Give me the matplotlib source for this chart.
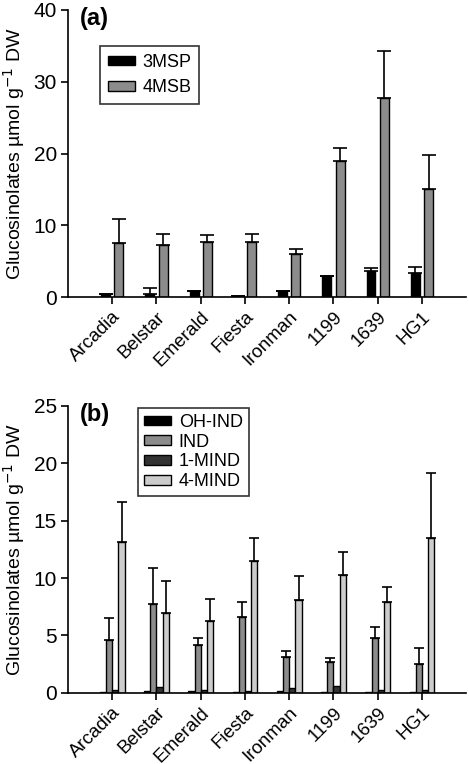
import numpy as np
import matplotlib.pyplot as plt

plt.rcParams['font.family'] = ['Liberation Sans', 'DejaVu Sans']

cultivars = ['Arcadia', 'Belstar', 'Emerald', 'Fiesta', 'Ironman', '1199', '1639', 'HG1']

# panel (a): aliphatic glucosinolates (mean, top of error bar)
msp3 = [0.5, 0.5, 0.8, 0.1, 0.8, 2.9, 3.6, 3.4]
msp3_top = [0.5, 1.3, 0.8, 0.1, 0.8, 3.0, 4.0, 4.2]
msb4 = [7.5, 7.3, 7.7, 7.7, 6.0, 18.9, 27.7, 15.0]
msb4_top = [10.9, 8.8, 8.6, 8.8, 6.7, 20.8, 34.3, 19.8]

# panel (b): indole glucosinolates
oh_ind = [0.1, 0.15, 0.15, 0.1, 0.15, 0.1, 0.1, 0.05]
ind = [4.6, 7.7, 4.2, 6.6, 3.1, 2.7, 4.8, 2.5]
ind_top = [6.5, 10.9, 4.8, 7.9, 3.65, 3.0, 5.7, 3.9]
mind1 = [0.3, 0.5, 0.3, 0.2, 0.4, 0.6, 0.3, 0.3]
mind4 = [13.1, 7.0, 6.3, 11.5, 8.1, 10.3, 7.9, 13.5]
mind4_top = [16.6, 9.7, 8.2, 13.5, 10.2, 12.3, 9.2, 19.1]

ylabel = 'Glucosinolates µmol g$^{-1}$ DW'
x = np.arange(len(cultivars))


def bars(ax, offset, vals, top, color, width, capsize, label):
    ax.bar(x + offset, vals, width, color=color, edgecolor='black', linewidth=1.0,
           label=label, zorder=2)
    if top is not None:
        up = np.array(top) - np.array(vals)
        ax.errorbar(x + offset, vals, yerr=[np.zeros_like(up), up], fmt='none',
                    ecolor='black', elinewidth=1.2, capsize=capsize, capthick=1.2, zorder=1)


def style(ax, ymax, step, tag):
    ax.set_xlim(-1, 8)
    ax.set_ylim(0, ymax)
    ax.set_yticks(np.arange(0, ymax + 1, step))
    ax.set_xticks(x)
    ax.set_xticklabels(cultivars, rotation=45, ha='right', rotation_mode='anchor', fontsize=13.5)
    ax.tick_params(axis='y', labelsize=15, direction='out', length=5, width=1.2, pad=3)
    ax.tick_params(axis='x', direction='out', length=5, width=1.2, pad=3)
    for s in ['top', 'right']:
        ax.spines[s].set_visible(False)
    for s in ['left', 'bottom']:
        ax.spines[s].set_linewidth(1.2)
    ax.set_ylabel(ylabel, fontsize=14, labelpad=5)
    ax.text(0.03, 1.01, tag, transform=ax.transAxes, fontsize=17, fontweight='bold',
            va='top', ha='left')


fig = plt.figure(figsize=(4.69, 7.64), dpi=100)

ax1 = fig.add_axes([0.145, 0.611, 0.849, 0.376])
bars(ax1, -0.15, msp3, msp3_top, 'black', 0.2, 5, '3MSP')
bars(ax1, 0.15, msb4, msb4_top, '#8c8c8c', 0.2, 5, '4MSB')
style(ax1, 40, 10, '(a)')
leg = ax1.legend(loc='upper left', bbox_to_anchor=(0.08, 0.875), fontsize=13, frameon=True,
                 fancybox=False, edgecolor='black', handlelength=1.5, handleheight=0.45,
                 borderpad=0.45, labelspacing=0.45, handletextpad=0.4, borderaxespad=0)
leg.get_frame().set_linewidth(1.2)

ax2 = fig.add_axes([0.145, 0.093, 0.849, 0.376])
w = 0.14
bars(ax2, -0.21, oh_ind, None, 'black', w, 3.5, 'OH-IND')
bars(ax2, -0.07, ind, ind_top, '#8c8c8c', w, 3.5, 'IND')
bars(ax2, 0.07, mind1, None, '#333333', w, 3.5, '1-MIND')
bars(ax2, 0.21, mind4, mind4_top, '#cccccc', w, 3.5, '4-MIND')
style(ax2, 25, 5, '(b)')
leg = ax2.legend(loc='upper left', bbox_to_anchor=(0.176, 0.993), fontsize=13, frameon=True,
                 fancybox=False, edgecolor='black', handlelength=1.5, handleheight=0.45,
                 borderpad=0.35, labelspacing=0.15, handletextpad=0.4, borderaxespad=0)
leg.get_frame().set_linewidth(1.2)

fig.savefig('out.png', dpi=100)
